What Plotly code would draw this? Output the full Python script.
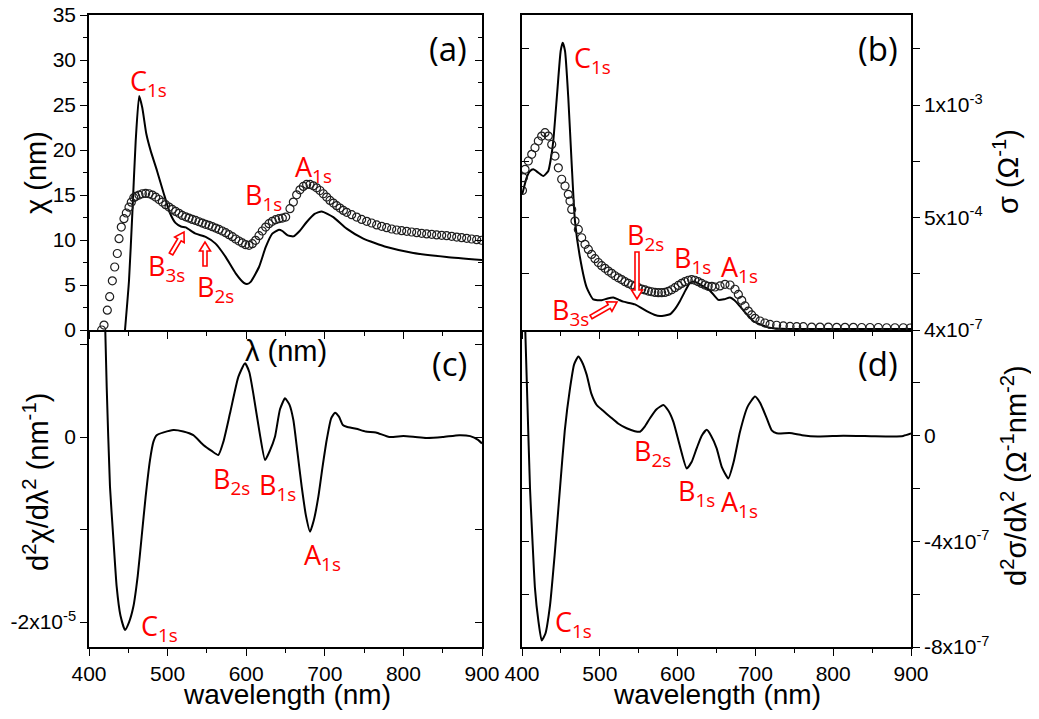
import math
import plotly.graph_objects as go

# page is 1039x719; the html body has an 8 px margin, so the figure is 16 px smaller
PAGE_W, PAGE_H = 1039, 719
OFF = 8
W, H = PAGE_W - 2 * OFF, PAGE_H - 2 * OFF

# ---------------- data ----------------
# (a) chi, solid line
a_line_wl = [445.8, 450.9, 455.1, 459.4, 463.8, 467.8, 472.9, 478.5, 486.5, 495.0, 503.0, 510.0,
             517.0, 523.0, 535.7, 548.4, 561.0, 574.0, 586.6, 597.0, 601.0, 605.7, 616.3, 624.8,
             633.2, 641.7, 646.0, 652.3, 660.0, 668.0, 677.0, 687.0, 696.0, 710.8, 727.8, 749.0,
             778.7, 812.6, 855.0, 900.0]
a_line_chi = [0.0, 5.5, 12.9, 21.0, 26.0, 24.7, 21.8, 19.9, 17.7, 15.2, 13.0, 11.9,
              11.5, 11.4, 10.7, 10.35, 9.6, 8.1, 6.3, 5.24, 5.1, 5.35, 7.0, 9.2,
              10.7, 11.15, 11.0, 10.55, 10.4, 11.0, 12.0, 12.9, 13.18, 12.55, 11.26, 10.15,
              9.22, 8.56, 8.12, 7.78]
# (a) chi, circles
a_circ_wl = [416.1, 419.1, 423.3, 426.3, 429.7, 432.7, 436.0, 438.2, 441.1, 444.5, 447.5, 450.9,
             453.8, 457.0, 459.4, 463.6, 467.9, 472.1, 476.3, 480.6, 484.8, 489.1, 493.3, 497.5,
             501.8, 506.0, 510.3, 514.5, 518.7, 523.0, 527.2, 531.5, 535.7, 539.9, 544.2, 548.4,
             552.7, 556.9, 561.2, 565.4, 569.6, 573.9, 578.1, 582.4, 586.6, 590.8, 595.1, 599.3,
             603.6, 607.8, 612.0, 616.3, 620.5, 624.8, 629.0, 633.2, 637.5, 641.7, 646.0, 650.2,
             655.7, 660.0, 664.2, 668.4, 672.7, 676.9, 681.2, 685.4, 689.6, 693.9, 698.1, 702.4,
             706.6, 710.9, 715.1, 719.3, 723.6, 727.8, 734.2, 740.5, 746.9, 753.3, 759.6, 766.0,
             772.3, 778.7, 785.1, 791.4, 797.8, 804.2, 810.5, 816.9, 823.2, 829.6, 836.0, 842.3,
             848.7, 855.0, 861.4, 867.8, 874.1, 880.5, 886.8, 893.2, 899.6]
a_circ_chi = [0.0, 0.55, 2.2, 3.7, 5.46, 7.0, 8.5, 10.15, 11.44, 12.37, 13.0, 13.65,
              14.2, 14.7, 14.84, 14.99, 15.14, 15.17, 15.14, 14.99, 14.77, 14.5, 14.21, 13.92,
              13.66, 13.4, 13.18, 12.96, 12.73, 12.58, 12.44, 12.29, 12.18, 12.03, 11.88, 11.74,
              11.63, 11.48, 11.33, 11.18, 11.0, 10.81, 10.59, 10.37, 10.11, 9.89, 9.67, 9.48,
              9.41, 9.59, 9.96, 10.48, 11.0, 11.44, 11.81, 12.07, 12.26, 12.37, 12.44, 12.55,
              13.48, 14.21, 15.02, 15.58, 15.95, 16.17, 16.17, 16.02, 15.8, 15.5, 15.14, 14.77,
              14.4, 14.1, 13.81, 13.55, 13.29, 13.07, 12.81, 12.55, 12.29, 12.07, 11.89, 11.67,
              11.52, 11.37, 11.22, 11.11, 11.04, 10.96, 10.89, 10.81, 10.74, 10.67, 10.63, 10.56,
              10.52, 10.48, 10.41, 10.33, 10.26, 10.19, 10.11, 10.04, 9.97]

# (b) sigma (units 1e-3 Ohm^-1), solid line
b_line_wl = [400.3, 406.0, 410.0, 414.5, 421.0, 427.4, 433.8, 437.0, 440.2, 445.4, 449.7, 452.3,
             455.3, 459.5, 463.9, 468.1, 474.6, 483.2, 491.6, 502.4, 510.0, 517.4, 524.0, 530.2,
             545.2, 560.3, 570.0, 577.4, 590.2, 597.0, 603.1, 610.0, 616.0, 622.0, 628.8, 641.6,
             652.3, 660.0, 667.4, 673.0, 678.0, 685.0, 691.0, 698.0, 706.0, 714.0, 723.0, 740.0,
             800.0, 900.0]
b_line_sig = [0.603, 0.677, 0.705, 0.714, 0.699, 0.684, 0.707, 0.76, 0.84, 1.062, 1.24, 1.277,
              1.24, 1.032, 0.736, 0.484, 0.321, 0.188, 0.136, 0.132, 0.14, 0.144, 0.135, 0.126,
              0.114, 0.084, 0.068, 0.062, 0.07, 0.095, 0.129, 0.175, 0.21, 0.215, 0.203, 0.175,
              0.134, 0.137, 0.144, 0.132, 0.114, 0.085, 0.062, 0.038, 0.025, 0.014, 0.008, 0.005,
              0.004, 0.004]
# (b) sigma, circles
b_circ_wl = [400.6, 401.7, 403.9, 408.1, 412.5, 416.7, 421.0, 425.3, 429.6, 433.8, 438.2, 442.4, 446.7,
             451.0, 455.3, 459.5, 461.7, 463.9, 468.1, 472.4, 476.7, 481.0, 485.3, 489.5, 493.8,
             498.1, 502.4, 506.7, 511.0, 515.3, 519.5, 523.8, 528.1, 532.4, 536.7, 541.0, 545.2,
             549.5, 553.8, 558.1, 562.4, 566.6, 570.9, 575.2, 579.5, 583.7, 588.0, 592.3, 596.6,
             600.9, 605.1, 609.4, 613.7, 618.0, 622.2, 626.5, 630.8, 635.1, 639.3, 644.0, 648.1,
             654.5, 660.9, 667.4, 673.8, 678.1, 682.4, 686.6, 690.9, 695.2, 699.5, 705.9, 712.3,
             718.8, 727.3, 735.9, 744.5, 753.1, 761.6, 772.3, 783.0, 793.8, 804.5, 815.2, 825.9,
             836.6, 847.3, 858.0, 868.7, 879.4, 890.1, 899.0]
b_circ_sig = [0.62, 0.677, 0.714, 0.751, 0.781, 0.81, 0.84, 0.862, 0.877, 0.862, 0.825, 0.773, 0.721,
              0.67, 0.64, 0.603, 0.573, 0.536, 0.484, 0.447, 0.41, 0.381, 0.358, 0.336, 0.317,
              0.3, 0.286, 0.274, 0.262, 0.252, 0.241, 0.232, 0.224, 0.215, 0.207, 0.2, 0.194,
              0.188, 0.182, 0.178, 0.173, 0.17, 0.167, 0.166, 0.166, 0.167, 0.172, 0.179, 0.188,
              0.198, 0.207, 0.215, 0.221, 0.224, 0.221, 0.215, 0.207, 0.2, 0.194, 0.194, 0.191,
              0.196, 0.203, 0.2, 0.181, 0.158, 0.132, 0.107, 0.084, 0.067, 0.052, 0.04, 0.031,
              0.025, 0.021, 0.018, 0.016, 0.015, 0.015, 0.013, 0.013, 0.013, 0.012, 0.012, 0.012,
              0.011, 0.011, 0.011, 0.01, 0.01, 0.01, 0.009]

# (c) d2chi/dlambda2 (units 1e-5 nm^-1)
c_wl = [420.4, 422.5, 426.7, 431.0, 435.2, 440.0, 445.8, 451.0, 456.4, 462.0, 467.0, 472.0,
        477.6, 482.0, 486.1, 495.0, 507.3, 520.0, 532.7, 545.5, 556.0, 564.5, 571.0, 579.4,
        590.0, 598.5, 604.0, 609.0, 617.0, 624.0, 630.0, 636.6, 643.0, 649.4, 655.0, 660.0,
        665.0, 670.6, 676.0, 681.2, 686.0, 691.8, 697.0, 702.4, 708.0, 713.0, 718.0, 723.0,
        727.8, 740.0, 752.0, 765.0, 782.0, 800.0, 815.0, 829.0, 850.0, 871.0, 885.0, 895.0,
        900.0]
c_val = [1.26, 0.544, -0.537, -1.1, -1.618, -1.93, -2.086, -2.0, -1.835, -1.5, -1.078, -0.65,
         -0.249, -0.05, 0.02, 0.05, 0.076, 0.06, 0.02, -0.086, -0.15, -0.195, -0.05, 0.256,
         0.65, 0.797, 0.7, 0.472, 0.05, -0.249, -0.15, 0.003, 0.3, 0.418, 0.35, 0.184,
         -0.15, -0.537, -0.85, -1.024, -0.9, -0.645, -0.33, -0.032, 0.2, 0.263, 0.22, 0.13,
         0.111, 0.09, 0.06, 0.05, 0.0, 0.01, 0.0, -0.01, 0.0, 0.02, 0.01, -0.03,
         -0.07]

# (d) d2sigma/dlambda2 (units 1e-7 Ohm^-1 nm^-2)
d_wl = [403.9, 407.0, 410.3, 413.5, 416.7, 421.0, 425.3, 430.0, 436.0, 442.0, 448.8, 455.0,
        461.7, 467.0, 472.4, 477.0, 483.2, 489.0, 496.0, 504.0, 513.1, 524.0, 534.5, 545.0,
        551.7, 558.0, 564.5, 573.0, 581.6, 588.0, 594.5, 603.0, 611.7, 618.0, 624.5, 631.0,
        637.4, 643.0, 650.2, 657.0, 665.2, 672.0, 680.2, 690.0, 699.5, 706.0, 714.5, 721.0,
        727.4, 744.0, 760.0, 780.0, 813.0, 850.0, 877.0, 890.0, 900.0]
d_val = [4.3, 1.2, -2.0, -4.0, -5.79, -7.0, -7.75, -7.5, -6.42, -4.5, -2.0, 0.2,
         1.79, 2.7, 3.0, 2.8, 2.3, 1.6, 1.16, 0.95, 0.72, 0.45, 0.28, 0.17,
         0.15, 0.35, 0.66, 1.0, 1.16, 0.95, 0.53, -0.4, -1.24, -1.0, -0.48, 0.0,
         0.22, 0.0, -0.48, -1.2, -1.62, -1.0, 0.15, 1.1, 1.48, 1.25, 0.66, 0.2,
         0.09, 0.1, 0.02, -0.03, 0.0, -0.02, -0.03, -0.01, 0.08]

b_sig = [v * 1e-3 for v in b_line_sig]
b_csig = [v * 1e-3 for v in b_circ_sig]
c_y = [v * 1e-5 for v in c_val]
d_y = [v * 1e-7 for v in d_val]

x_ticks = [400, 500, 600, 700, 800, 900]

# ---------------- geometry (page pixels -> paper fractions) ----------------
def px(x):
    return (x - OFF) / W

def py(y):
    return 1 - (y - OFF) / H

XL = [px(89), px(482)]
XR = [px(522), px(911)]
YT = [py(330), py(15)]
YB = [py(647), py(330)]

SANS = "Liberation Sans, Arial, sans-serif"
TICKFONT = dict(family=SANS, size=21, color="black")
RED = "#ff0000"

fig = go.Figure()

line_style = dict(color="black", width=2, shape="spline", smoothing=0.5)
circ_style = dict(symbol="circle-open", size=8, color="#1e1e1e", line=dict(width=1.2, color="#1e1e1e"))

fig.add_trace(go.Scatter(x=a_line_wl, y=a_line_chi, mode="lines", line=line_style, xaxis="x", yaxis="y"))
fig.add_trace(go.Scatter(x=a_circ_wl, y=a_circ_chi, mode="markers", marker=circ_style, xaxis="x", yaxis="y"))
fig.add_trace(go.Scatter(x=b_line_wl, y=b_sig, mode="lines", line=line_style, xaxis="x2", yaxis="y2"))
fig.add_trace(go.Scatter(x=b_circ_wl, y=b_csig, mode="markers", marker=circ_style, xaxis="x2", yaxis="y2"))
fig.add_trace(go.Scatter(x=c_wl, y=c_y, mode="lines", line=line_style, xaxis="x3", yaxis="y3"))
fig.add_trace(go.Scatter(x=d_wl, y=d_y, mode="lines", line=line_style, xaxis="x4", yaxis="y4"))
# empty traces to realise the mirrored (inward-tick) overlay axes
for xa, ya in [("x", "y5"), ("x2", "y6"), ("x3", "y7"), ("x4", "y8")]:
    fig.add_trace(go.Scatter(x=[None], y=[None], mode="markers", xaxis=xa, yaxis=ya,
                             hoverinfo="skip", showlegend=False))

common_x = dict(range=[400, 900], showline=True, linecolor="black", linewidth=1.5,
                ticks="outside", ticklen=7, tickwidth=1.3, tickcolor="black",
                tickvals=x_ticks, showgrid=False, zeroline=False, tickfont=TICKFONT,
                ticklabeloverflow="allow",
                minor=dict(dtick=50, ticks="outside", ticklen=4, tickwidth=1.2, tickcolor="black", showgrid=False),
                automargin=False)
common_y = dict(showline=True, linecolor="black", linewidth=1.5, mirror=True,
                ticks="outside", ticklen=7, tickwidth=1.3, tickcolor="black",
                showgrid=False, zeroline=False, tickfont=TICKFONT, automargin=False,
                ticklabeloverflow="allow")

a_yt = [0, 5, 10, 15, 20, 25, 30, 35]
a_yrange = [0, 35]
b_yrange = [0, 1.4e-3]
b_yt = [0, 2.5e-4, 5e-4, 7.5e-4, 1e-3, 1.25e-3]
b_ytxt = [" ", " ", "5x10<sup>-4</sup>", " ", "1x10<sup>-3</sup>", " "]
c_yrange = [-2.27e-5, 1.157e-5]
c_yt = [-2e-5, -1e-5, 0, 1e-5]
c_ytxt = ["-2x10<sup>-5</sup>", " ", "0", " "]
d_yrange = [-8e-7, 4e-7]
d_yt = [-8e-7, -6e-7, -4e-7, -2e-7, 0, 2e-7, 4e-7]
d_ytxt = ["-8x10<sup>-7</sup>", " ", "-4x10<sup>-7</sup>", " ", "0", " ", "4x10<sup>-7</sup>"]

def mirror_axis(over, side, anchor, rng, vals, minor=None):
    d = dict(overlaying=over, side=side, anchor=anchor, range=rng, tickvals=vals,
             showticklabels=False, showline=False, showgrid=False, zeroline=False,
             ticks="inside", ticklen=7, tickwidth=1.3, tickcolor="black")
    if minor:
        d["minor"] = dict(dtick=minor, ticks="inside", ticklen=4, tickwidth=1.2, tickcolor="black")
    return d

layout = dict(
    width=W, height=H, margin=dict(l=0, r=0, t=0, b=0),
    paper_bgcolor="white", plot_bgcolor="white", showlegend=False,
    xaxis=dict(common_x, domain=XL, anchor="y", showticklabels=False, mirror=True),
    yaxis=dict(common_y, domain=YT, anchor="x", range=a_yrange, tickvals=a_yt,
               minor=dict(dtick=2.5, ticks="outside", ticklen=4, tickwidth=1.2, tickcolor="black")),
    xaxis2=dict(common_x, domain=XR, anchor="y2", showticklabels=False, mirror=True),
    yaxis2=dict(common_y, domain=YT, anchor="x2", side="right", range=b_yrange,
                tickvals=b_yt, ticktext=b_ytxt),
    xaxis3=dict(common_x, domain=XL, anchor="y3", showticklabels=True, mirror=False),
    yaxis3=dict(common_y, domain=YB, anchor="x3", range=c_yrange, tickvals=c_yt, ticktext=c_ytxt),
    xaxis4=dict(common_x, domain=XR, anchor="y4", showticklabels=True, mirror=False),
    yaxis4=dict(common_y, domain=YB, anchor="x4", side="right", range=d_yrange,
                tickvals=d_yt, ticktext=d_ytxt),
    yaxis5=mirror_axis("y", "right", "x", a_yrange, a_yt, minor=2.5),
    yaxis6=mirror_axis("y2", "left", "x2", b_yrange, b_yt),
    yaxis7=mirror_axis("y3", "right", "x3", c_yrange, c_yt),
    yaxis8=mirror_axis("y4", "left", "x4", d_yrange, d_yt),
)
fig.update_layout(**layout)

ann = []
def text(x, y, s, size, color="black", family=SANS, angle=0):
    ann.append(dict(x=px(x), y=py(y), xref="paper", yref="paper", text=s, showarrow=False,
                    xanchor="center", yanchor="middle", textangle=angle,
                    font=dict(family=family, size=size, color=color)))

LBL = "Open Sans, Noto Sans, sans-serif"
# panel letters
for x, y, s in [(448, 48, "(a)"), (878, 48, "(b)"), (449, 363, "(c)"), (878, 363, "(d)")]:
    text(x, y, s, 33, family=LBL)
# red peak labels
red_labels = [
    (148, 82, "C<sub>1s</sub>"), (263, 197, "B<sub>1s</sub>"), (313, 168, "A<sub>1s</sub>"),
    (166, 267, "B<sub>3s</sub>"), (215, 288, "B<sub>2s</sub>"),
    (592, 60, "C<sub>1s</sub>"), (645, 236, "B<sub>2s</sub>"), (692, 259, "B<sub>1s</sub>"),
    (739, 268, "A<sub>1s</sub>"), (570, 311, "B<sub>3s</sub>"),
    (231, 480, "B<sub>2s</sub>"), (277, 486, "B<sub>1s</sub>"), (322, 556, "A<sub>1s</sub>"),
    (159, 627, "C<sub>1s</sub>"),
    (652, 452, "B<sub>2s</sub>"), (696, 492, "B<sub>1s</sub>"), (739, 503, "A<sub>1s</sub>"),
    (573, 623, "C<sub>1s</sub>"),
]
for x, y, s in red_labels:
    text(x, y, s, 27, color=RED, family=LBL)

# axis titles
TF = 29
text(36, 173, "χ (nm)", TF, angle=-90)
text(1006, 172, "σ (Ω<sup>-1</sup>)", TF, angle=-90)
text(36, 482, "d<sup>2</sup>χ/dλ<sup>2</sup> (nm<sup>-1</sup>)", TF, angle=-90)
text(1014, 476, "d<sup>2</sup>σ/dλ<sup>2</sup> (Ω<sup>-1</sup>nm<sup>-2</sup>)", TF, angle=-90)
text(287, 694, "wavelength (nm)", 28)
text(717, 694, "wavelength (nm)", 28)
text(286, 351, "λ (nm)", TF)
fig.update_layout(annotations=ann)

# hollow red arrows (tail -> head, in page pixel coordinates)
def hollow_arrow(x0, y0, x1, y1, shaft=4.0, head=11.0, headlen=9.0):
    dx, dy = x1 - x0, y1 - y0
    L = math.hypot(dx, dy)
    ux, uy = dx / L, dy / L
    nx, ny = -uy, ux
    bx, by = x1 - ux * headlen, y1 - uy * headlen
    pts = [
        (x0 + nx * shaft / 2, y0 + ny * shaft / 2),
        (bx + nx * shaft / 2, by + ny * shaft / 2),
        (bx + nx * head / 2, by + ny * head / 2),
        (x1, y1),
        (bx - nx * head / 2, by - ny * head / 2),
        (bx - nx * shaft / 2, by - ny * shaft / 2),
        (x0 - nx * shaft / 2, y0 - ny * shaft / 2),
    ]
    path = "M " + " L ".join(f"{px(a):.5f},{py(b):.5f}" for a, b in pts) + " Z"
    return dict(type="path", xref="paper", yref="paper", path=path,
                line=dict(color=RED, width=1.6), fillcolor="white", layer="above")

arrows = [
    (171, 254, 184, 232),
    (205, 266, 205, 242),
    (637, 252, 637, 299),
    (591, 317, 617, 302),
]
fig.update_layout(shapes=[hollow_arrow(*a) for a in arrows])

fig.write_html("out.html")
